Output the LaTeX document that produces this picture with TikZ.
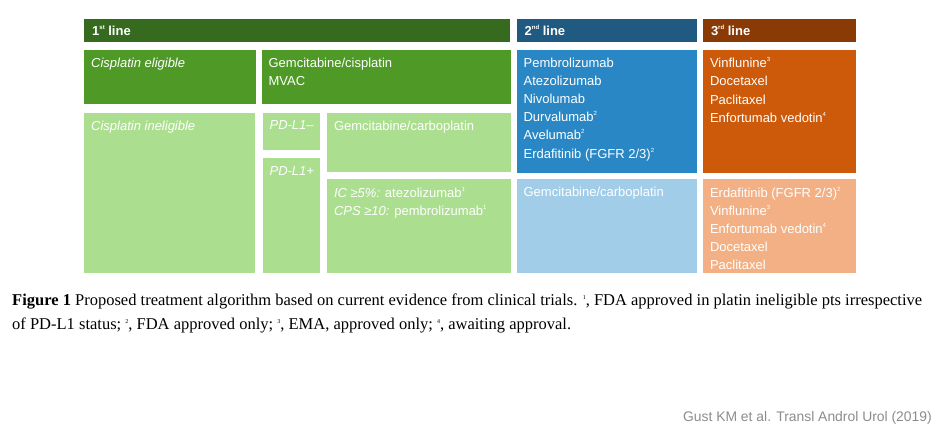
\documentclass[tikz,border=0pt]{standalone}
\usepackage{fontspec}
\setmainfont{Liberation Serif}
\setsansfont{Liberation Sans}
\usetikzlibrary{positioning}

\definecolor{hdrone}{HTML}{366B1F}
\definecolor{hdrtwo}{HTML}{215A80}
\definecolor{hdrthree}{HTML}{8A3A04}
\definecolor{greenA}{HTML}{4F9A27}
\definecolor{blueA}{HTML}{2A87C5}
\definecolor{orangeA}{HTML}{CC5A0A}
\definecolor{greenB}{HTML}{ABDF8F}
\definecolor{blueB}{HTML}{A2CDE8}
\definecolor{orangeB}{HTML}{F3B084}
\definecolor{srcgray}{HTML}{8C8C8C}

\newcommand{\supn}[1]{\raisebox{0.85ex}{\fontsize{6}{6}\selectfont #1}}

\begin{document}
\begin{tikzpicture}[
    x=1pt, y=-1pt,
    cell/.style={rectangle, inner sep=0pt, anchor=north west},
    hdr/.style={cell, minimum height=23pt},
    hdrtxt/.style={anchor=west, text=white, inner xsep=8pt, font=\sffamily\bfseries\fontsize{13}{15}\selectfont},
    txt/.style={anchor=north west, align=left, text=white, inner xsep=7pt, inner ysep=8pt, font=\sffamily\fontsize{13}{18.2}\selectfont},
]
    \useasboundingbox (0,0) rectangle (936,432);

    % header row
    \node[hdr, fill=hdrone, minimum width=426pt, label={[hdrtxt]west:{1\supn{st} line}}] (first) at (84,19) {};
    \node[hdr, fill=hdrtwo, minimum width=180pt, right=6pt of first, label={[hdrtxt]west:{2\supn{nd} line}}] (second) {};
    \node[hdr, fill=hdrthree, minimum width=153pt, right=6pt of second, label={[hdrtxt]west:{3\supn{rd} line}}] (third) {};

    % 1st line
    \node[cell, fill=greenA, minimum width=172pt, minimum height=54pt, below=7pt of first.south west, anchor=north west,
        label={[txt]north west:{\itshape Cisplatin eligible}}] (elig) {};
    \node[cell, fill=greenA, minimum width=249pt, minimum height=54pt, right=5pt of elig.north east, anchor=north west,
        label={[txt]north west:{Gemcitabine/cisplatin\\MVAC}}] (gemcis) {};
    \node[cell, fill=greenB, minimum width=171pt, minimum height=160pt, below=9pt of elig.south west, anchor=north west,
        label={[txt]north west:{\itshape Cisplatin ineligible}}] (inelig) {};
    \node[cell, fill=greenB, minimum width=57pt, minimum height=37pt, right=7pt of inelig.north east, anchor=north west,
        label={[txt]north west:{\itshape PD-L1–}}] (pdneg) {};
    \node[cell, fill=greenB, minimum width=57pt, minimum height=115pt, below=8pt of pdneg.south west, anchor=north west,
        label={[txt]north west:{\itshape PD-L1+}}] (pdpos) {};
    \node[cell, fill=greenB, minimum width=184pt, minimum height=59pt, right=7pt of pdneg.north east, anchor=north west,
        label={[txt]north west:{Gemcitabine/carboplatin}}] (gemcarb) {};
    \node[cell, fill=greenB, minimum width=184pt, minimum height=94pt, below=7pt of gemcarb.south west, anchor=north west,
        label={[txt]north west:{\textit{IC ≥5\%:} atezolizumab\supn{1}\\\textit{CPS ≥10:} pembrolizumab\supn{1}}}] (pdposdrug) {};

    % 2nd line
    \node[cell, fill=blueA, minimum width=180pt, minimum height=123pt, below=7pt of second.south west, anchor=north west,
        label={[txt]north west:{Pembrolizumab\\Atezolizumab\\Nivolumab\\Durvalumab\supn{2}\\Avelumab\supn{2}\\Erdafitinib (FGFR 2/3)\supn{2}}}] (twoA) {};
    \node[cell, fill=blueB, minimum width=180pt, minimum height=94pt, below=6pt of twoA.south west, anchor=north west,
        label={[txt]north west:{Gemcitabine/carboplatin}}] (twoB) {};

    % 3rd line
    \node[cell, fill=orangeA, minimum width=153pt, minimum height=123pt, below=7pt of third.south west, anchor=north west,
        label={[txt]north west:{Vinflunine\supn{3}\\Docetaxel\\Paclitaxel\\Enfortumab vedotin\supn{4}}}] (threeA) {};
    \node[cell, fill=orangeB, minimum width=153pt, minimum height=94pt, below=6pt of threeA.south west, anchor=north west,
        label={[txt]north west:{Erdafitinib (FGFR 2/3)\supn{2}\\Vinflunine\supn{3}\\Enfortumab vedotin\supn{4}\\Docetaxel\\Paclitaxel}}] (threeB) {};

    % caption and source
    \node[anchor=north west, inner sep=0pt, align=left, font=\fontsize{16.5}{24}\selectfont] (caption) at (12,294)
        {\textbf{Figure 1} Proposed treatment algorithm based on current evidence from clinical trials. \supn{1}, FDA approved in platin ineligible pts irrespective\\
         of PD-L1 status; \supn{2}, FDA approved only; \supn{3}, EMA, approved only; \supn{4}, awaiting approval.};
    \node[anchor=base east, inner sep=0pt, text=srcgray, font=\sffamily\fontsize{13.9}{15}\selectfont] (source) at (932,421)
        {Gust KM et al. Transl Androl Urol (2019)};
\end{tikzpicture}
\end{document}
